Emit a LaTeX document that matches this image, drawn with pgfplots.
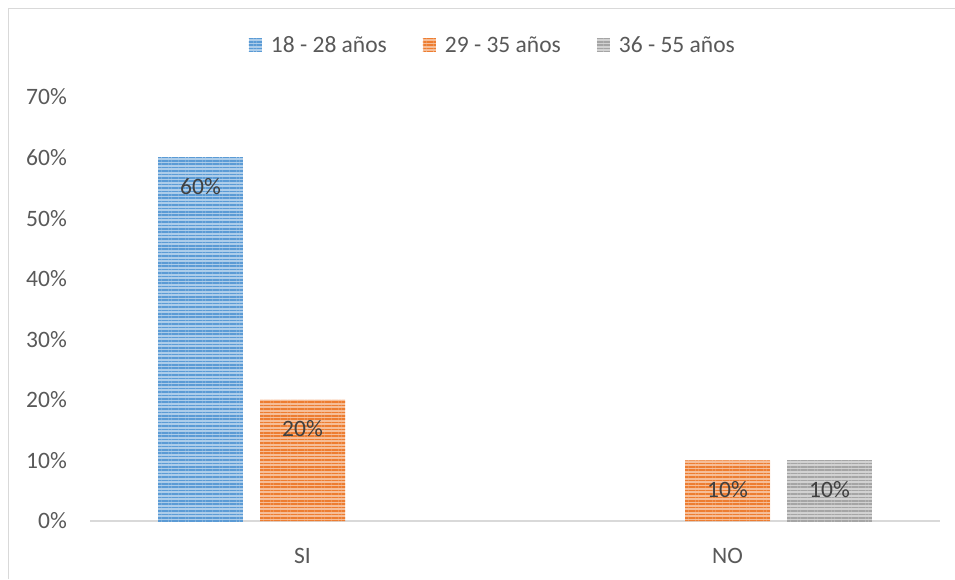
\documentclass[border=0pt]{standalone}
\usepackage{pgfplots}
\pgfplotsset{compat=1.18}
\usetikzlibrary{patterns.meta}
\usepackage{fontspec}
\setmainfont{Carlito}
\definecolor{cblue}{HTML}{5B9BD5}
\definecolor{corange}{HTML}{ED7D31}
\definecolor{cgray}{HTML}{A5A5A5}
\definecolor{ctick}{HTML}{595959}
\definecolor{clab}{HTML}{404040}
\definecolor{cline}{HTML}{D9D9D9}
\begin{document}
\begin{tikzpicture}
\useasboundingbox (0pt,0pt) rectangle (955pt,579pt);
\draw[cline, line width=1pt] (8.5pt,0pt) -- (8.5pt,570.5pt) -- (955pt,570.5pt);
\begin{axis}[
  at={(90pt,58pt)}, anchor=south west,
  scale only axis, width=850pt, height=424pt,
  xmin=-0.5, xmax=1.5, ymin=0, ymax=70,
  ybar, bar width=85pt,
  axis x line*=bottom, axis y line*=left,
  x axis line style={cline, line width=2.5pt, -},
  y axis line style={draw=none},
  xtick={0,1}, xticklabels={SI,NO}, xtick style={draw=none},
  ytick={0,10,...,70}, yticklabel={\pgfmathprintnumber{\tick}\%}, ytick style={draw=none},
  ticklabel style={font=\fontsize{23.5}{27}\selectfont, text=ctick, inner sep=0pt},
  /pgf/number format/assume math mode=true,
  xticklabel style={anchor=center, yshift=-31pt},
  yticklabel style={anchor=east, xshift=-23pt},
  nodes near coords={\pgfmathprintnumber{\pgfplotspointmeta}\%},
  every node near coord/.append style={font=\fontsize{23.5}{27}\selectfont, text=clab, anchor=center, yshift=-29pt},
  legend style={at={(0.474,1.0)}, yshift=52pt, anchor=center, draw=none, legend columns=3,
     font=\fontsize{23.5}{27}\selectfont, text=ctick, inner sep=0pt,
     /tikz/every even column/.append style={column sep=34pt},
     /tikz/every odd column/.append style={column sep=7pt}},
  legend image code/.code={\draw[#1, draw=none] (0pt,-6.5pt) rectangle (13pt,6.5pt);},
  clip=false,
]
\pgfplotsset{
  every axis plot/.append style={draw=none}
}
\addplot[fill=cblue!50!white, postaction={pattern={Lines[angle=0,distance=3.4pt,line width=1.6pt]}, pattern color=cblue}, bar shift=-102pt] coordinates {(0,60)};
\addplot[fill=corange!50!white, postaction={pattern={Lines[angle=0,distance=3.4pt,line width=1.6pt]}, pattern color=corange}, bar shift=0pt] coordinates {(0,20) (1,10)};
\addplot[fill=cgray!50!white, postaction={pattern={Lines[angle=0,distance=3.4pt,line width=1.6pt]}, pattern color=cgray}, bar shift=102pt] coordinates {(1,10)};
\legend{18 - 28 años, 29 - 35 años, 36 - 55 años}
\end{axis}
\end{tikzpicture}
\end{document}
